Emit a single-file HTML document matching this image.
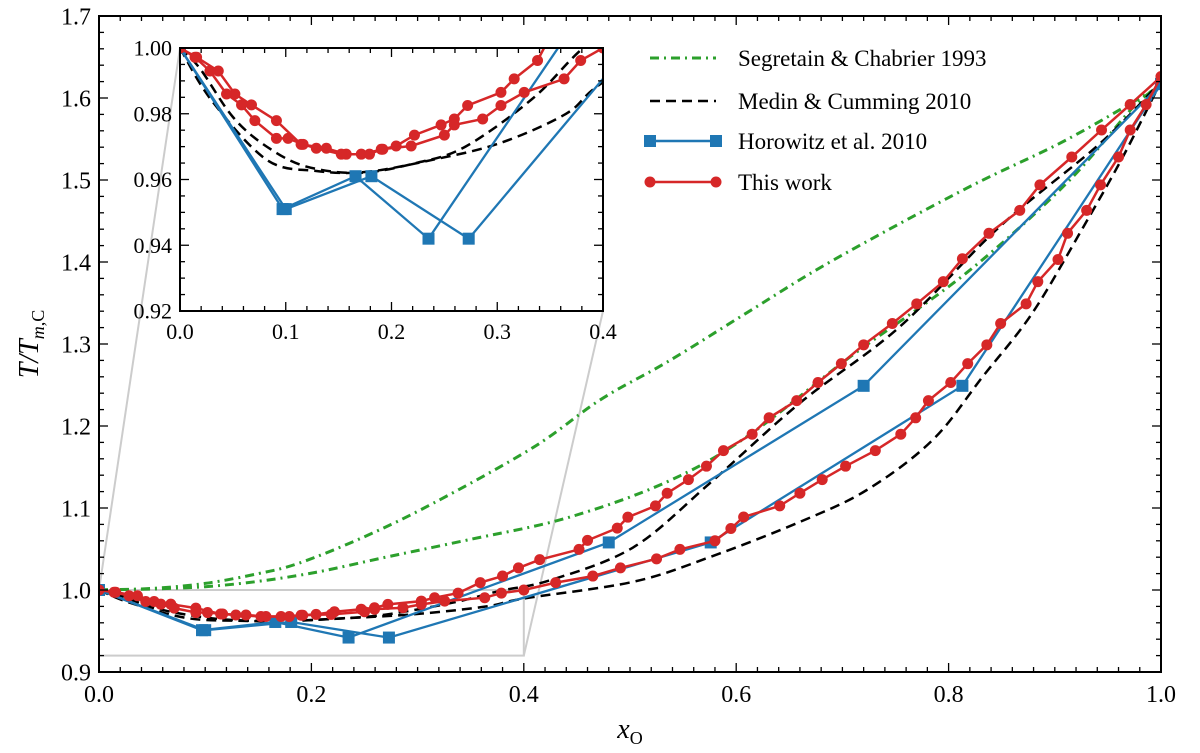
<!DOCTYPE html>
<html><head><meta charset="utf-8"><style>
body{margin:0;background:#fff}
svg text{font-family:"Liberation Serif",serif;fill:#000}
</style></head><body>
<svg id="c" width="1200" height="748" viewBox="0 0 1200 748"></svg>
<script>
const redUpX=[0,.0157,.0362,.0519,.0676,.0912,.1145,.1384,.1572,.1714,.1918,.2044,.2217,.2469,.2594,.2720,.3035,.3160,.3381,.359,.380,.395,.415,.452,.460,.488,.498,.524,.535,.555,.572,.588,.615,.631,.657,.677,.699,.720,.747,.770,.795,.813,.838,.867,.886,.916,.944,.971,1.0];
const redUpT=[1.0,.9972,.9930,.9860,.9827,.9779,.9707,.9695,.9677,.9677,.9692,.9702,.9735,.9766,.9784,.9825,.9865,.9906,.9962,1.009,1.017,1.027,1.037,1.0495,1.0605,1.0755,1.0888,1.1026,1.118,1.1346,1.151,1.170,1.190,1.210,1.231,1.253,1.276,1.299,1.325,1.349,1.376,1.404,1.435,1.463,1.494,1.528,1.561,1.592,1.626];
const redLoX=[0,.0142,.0283,.0440,.0582,.0708,.0912,.1022,.1164,.1289,.1525,.1792,.1903,.2186,.2500,.2594,.2862,.3035,.3255,.3632,.3789,.4,.430,.465,.491,.525,.547,.580,.595,.607,.641,.660,.681,.703,.731,.755,.769,.781,.802,.818,.836,.849,.873,.884,.903,.912,.930,.943,.960,.971,.986,1.0];
const redLoT=[1.0,.9972,.9930,.9860,.9827,.9779,.9725,.9725,.9707,.9695,.9677,.9677,.9692,.9702,.9735,.9766,.9784,.9825,.9865,.9906,.9962,1.0,1.009,1.017,1.027,1.038,1.0495,1.060,1.075,1.089,1.1026,1.118,1.1346,1.151,1.170,1.190,1.210,1.231,1.253,1.276,1.299,1.325,1.349,1.376,1.403,1.435,1.463,1.494,1.528,1.561,1.592,1.626];
const blueAX=[0,.097,.166,.235,.480,.720,1.0];
const blueAT=[1.0,.951,.961,.942,1.058,1.249,1.617];
const blueBX=[0,.100,.181,.273,.576,.813,1.0];
const blueBT=[1.0,.951,.961,.942,1.058,1.249,1.617];
const mcUpX=[0,.019,.050,.082,.119,.170,.223,.270,.333,.377,.425,.503,.575,.660,.754,.848,.943,1.0];
const mcUpT=[1.0,.9937,.979,.970,.964,.962,.965,.970,.9845,.9988,1.012,1.052,1.130,1.228,1.321,1.443,1.545,1.62];
const mcLoX=[0,.03,.082,.129,.176,.239,.302,.365,.4,.503,.575,.660,.723,.785,.832,.879,.927,.964,1.0];
const mcLoT=[1.0,.984,.966,.9626,.9623,.966,.971,.980,.9896,1.010,1.040,1.083,1.122,1.183,1.260,1.338,1.443,1.528,1.62];
const scUpX=[0,.05,.1,.15,.189,.25,.315,.409,.472,.535,.610,.691,.817,.911,1.0];
const scUpT=[1.0,1.002,1.008,1.02,1.033,1.065,1.106,1.174,1.232,1.278,1.338,1.402,1.490,1.549,1.615];
const scLoX=[0,.1,.189,.27,.347,.441,.535,.610,.707,.817,.911,.974,1.0];
const scLoT=[1.0,1.004,1.018,1.04,1.061,1.088,1.132,1.187,1.284,1.387,1.496,1.589,1.615];
const xTicks=[0,.2,.4,.6,.8,1.0], yTicks=[.9,1.0,1.1,1.2,1.3,1.4,1.5,1.6,1.7];
const ixTicks=[0,.1,.2,.3,.4], iyTicks=[.92,.94,.96,.98,1.00];

const NS="http://www.w3.org/2000/svg", svg=document.getElementById('c');
function el(t,a,p){const e=document.createElementNS(NS,t);for(const k in a)e.setAttribute(k,a[k]);(p||svg).appendChild(e);return e;}
const M={x0:99,x1:1161,y0:672,y1:16,xmin:0,xmax:1,ymin:.9,ymax:1.7};
const I={x0:180,x1:603,y0:311,y1:48,xmin:0,xmax:.4,ymin:.92,ymax:1.0};
const sx=(A,v)=>A.x0+(v-A.xmin)/(A.xmax-A.xmin)*(A.x1-A.x0);
const sy=(A,v)=>A.y0+(v-A.ymin)/(A.ymax-A.ymin)*(A.y1-A.y0);
function pts(A,X,T){return X.map((x,i)=>sx(A,x).toFixed(1)+','+sy(A,T[i]).toFixed(1)).join(' ');}
function smooth(A,X,T){
  const P=X.map((x,i)=>[sx(A,x),sy(A,T[i])]);let d='M'+P[0][0]+','+P[0][1];
  for(let i=0;i<P.length-1;i++){const p0=P[Math.max(0,i-1)],p1=P[i],p2=P[i+1],p3=P[Math.min(P.length-1,i+2)];
    const c1=[p1[0]+(p2[0]-p0[0])/6,p1[1]+(p2[1]-p0[1])/6],c2=[p2[0]-(p3[0]-p1[0])/6,p2[1]-(p3[1]-p1[1])/6];
    d+=' C'+c1[0].toFixed(1)+','+c1[1].toFixed(1)+' '+c2[0].toFixed(1)+','+c2[1].toFixed(1)+' '+p2[0].toFixed(1)+','+p2[1].toFixed(1);}
  return d;}

function drawSeries(A,g){
  let e;
  e=el('path',{d:smooth(A,scUpX,scUpT),fill:'none',stroke:'#2ca02c','stroke-width':3,'stroke-dasharray':'9,5,2,5'},g);
  
  e=el('path',{d:smooth(A,scLoX,scLoT),fill:'none',stroke:'#2ca02c','stroke-width':3,'stroke-dasharray':'9,5,2,5'},g);
  
  e=el('path',{d:smooth(A,mcUpX,mcUpT),fill:'none',stroke:'#000','stroke-width':2.5,'stroke-dasharray':'10,6'},g);
  
  e=el('path',{d:smooth(A,mcLoX,mcLoT),fill:'none',stroke:'#000','stroke-width':2.5,'stroke-dasharray':'10,6'},g);
  
  [[blueAX,blueAT,'horowitz-a'],[blueBX,blueBT,'horowitz-b']].forEach(([X,T,n])=>{
    e=el('polyline',{points:pts(A,X,T),fill:'none',stroke:'#1f77b4','stroke-width':2.3},g);
    
    X.forEach((x,i)=>{const r=el('rect',{x:sx(A,x)-6,y:sy(A,T[i])-6,width:12,height:12,fill:'#1f77b4'},g);
      });
  });
  [[redUpX,redUpT,'this-work-upper'],[redLoX,redLoT,'this-work-lower']].forEach(([X,T,n])=>{
    e=el('polyline',{points:pts(A,X,T),fill:'none',stroke:'#d62728','stroke-width':2.5},g);
    
    X.forEach((x,i)=>{const c=el('circle',{cx:sx(A,x),cy:sy(A,T[i]),r:5.5,fill:'#d62728'},g);
      });
  });
}
function clip(id,A){const d=el('defs',{});const cp=el('clipPath',{id:id},d);el('rect',{x:A.x0,y:A.y1,width:A.x1-A.x0,height:A.y0-A.y1},cp);}
clip('cm',M);clip('ci',I);

let z=el('rect',{x:sx(M,0),y:sy(M,1.0),width:sx(M,.4)-sx(M,0),height:sy(M,.92)-sy(M,1.0),fill:'none',stroke:'#ccc','stroke-width':2});

z=el('line',{x1:sx(M,0),y1:sy(M,1.0),x2:I.x0,y2:I.y1,stroke:'#ccc','stroke-width':2});

z=el('line',{x1:sx(M,.4),y1:sy(M,.92),x2:I.x1,y2:I.y0,stroke:'#ccc','stroke-width':2});


const gm=el('g',{'clip-path':'url(#cm)'});

drawSeries(M,gm);

function axes(A,xt,yt,xminor,yminor,fs,dec,name){
  const g=el('g',{});
  el('rect',{x:A.x0,y:A.y1,width:A.x1-A.x0,height:A.y0-A.y1,fill:'none',stroke:'#000','stroke-width':2},g);
  for(let v=A.xmin;v<=A.xmax+1e-9;v+=xminor){const X=sx(A,v);const maj=xt.some(t=>Math.abs(t-v)<1e-6);const L=maj?9:5;
    el('line',{x1:X,y1:A.y0,x2:X,y2:A.y0-L,stroke:'#000','stroke-width':1.3},g);el('line',{x1:X,y1:A.y1,x2:X,y2:A.y1+L,stroke:'#000','stroke-width':1.3},g);}
  for(let v=A.ymin;v<=A.ymax+1e-9;v+=yminor){const Y=sy(A,v);const maj=yt.some(t=>Math.abs(t-v)<1e-6);const L=maj?9:5;
    el('line',{x1:A.x0,y1:Y,x2:A.x0+L,y2:Y,stroke:'#000','stroke-width':1.3},g);el('line',{x1:A.x1,y1:Y,x2:A.x1-L,y2:Y,stroke:'#000','stroke-width':1.3},g);}
  xt.forEach(v=>{const t=el('text',{x:sx(A,v),y:A.y0+fs+6,'font-size':fs,'text-anchor':'middle'},g);t.textContent=v.toFixed(1);
    });
  yt.forEach(v=>{const t=el('text',{x:A.x0-8,y:sy(A,v)+fs*0.35,'font-size':fs,'text-anchor':'end'},g);t.textContent=v.toFixed(dec);
    });
}
axes(M,xTicks,yTicks,.02,.02,24,1,'main-axes');

const ib=el('rect',{x:I.x0,y:I.y1,width:I.x1-I.x0,height:I.y0-I.y1,fill:'#fff'});

const gi=el('g',{'clip-path':'url(#ci)'});

drawSeries(I,gi);
axes(I,ixTicks,iyTicks,.02,.005,22,2,'inset-axes');

let t=el('text',{x:630,y:738,'font-size':28,'font-style':'italic','text-anchor':'middle'});
t.innerHTML='x<tspan font-size="18" font-style="normal" dy="6">O</tspan>';

t=el('text',{x:0,y:0,'font-size':28,'font-style':'italic','text-anchor':'middle',transform:'translate(38,344) rotate(-90)'});
t.innerHTML='T/T<tspan font-size="18" dy="6">m,</tspan><tspan font-size="18" font-style="normal">C</tspan>';


const lg=el('g',{});
const items=[['Segretain &amp; Chabrier 1993','#2ca02c','9,5,2,5',null,58],['Medin &amp; Cumming 2010','#000','10,6',null,101],['Horowitz et al. 2010','#1f77b4',null,'sq',141],['This work','#d62728',null,'ci',182]];
items.forEach(([lab,col,da,mk,y])=>{
  const g=el('g',{},lg);
  const a={x1:650,y1:y,x2:716,y2:y,stroke:col,'stroke-width':da&&da.length>5?3:2.5};if(da)a['stroke-dasharray']=da;el('line',a,g);
  [650,716].forEach(x=>{if(mk==='sq')el('rect',{x:x-6,y:y-6,width:12,height:12,fill:col},g);if(mk==='ci')el('circle',{cx:x,cy:y,r:5.5,fill:col},g);});
  const tx=el('text',{x:738,y:y+8,'font-size':23},g);tx.innerHTML=lab;
});
</script>
</body></html>
